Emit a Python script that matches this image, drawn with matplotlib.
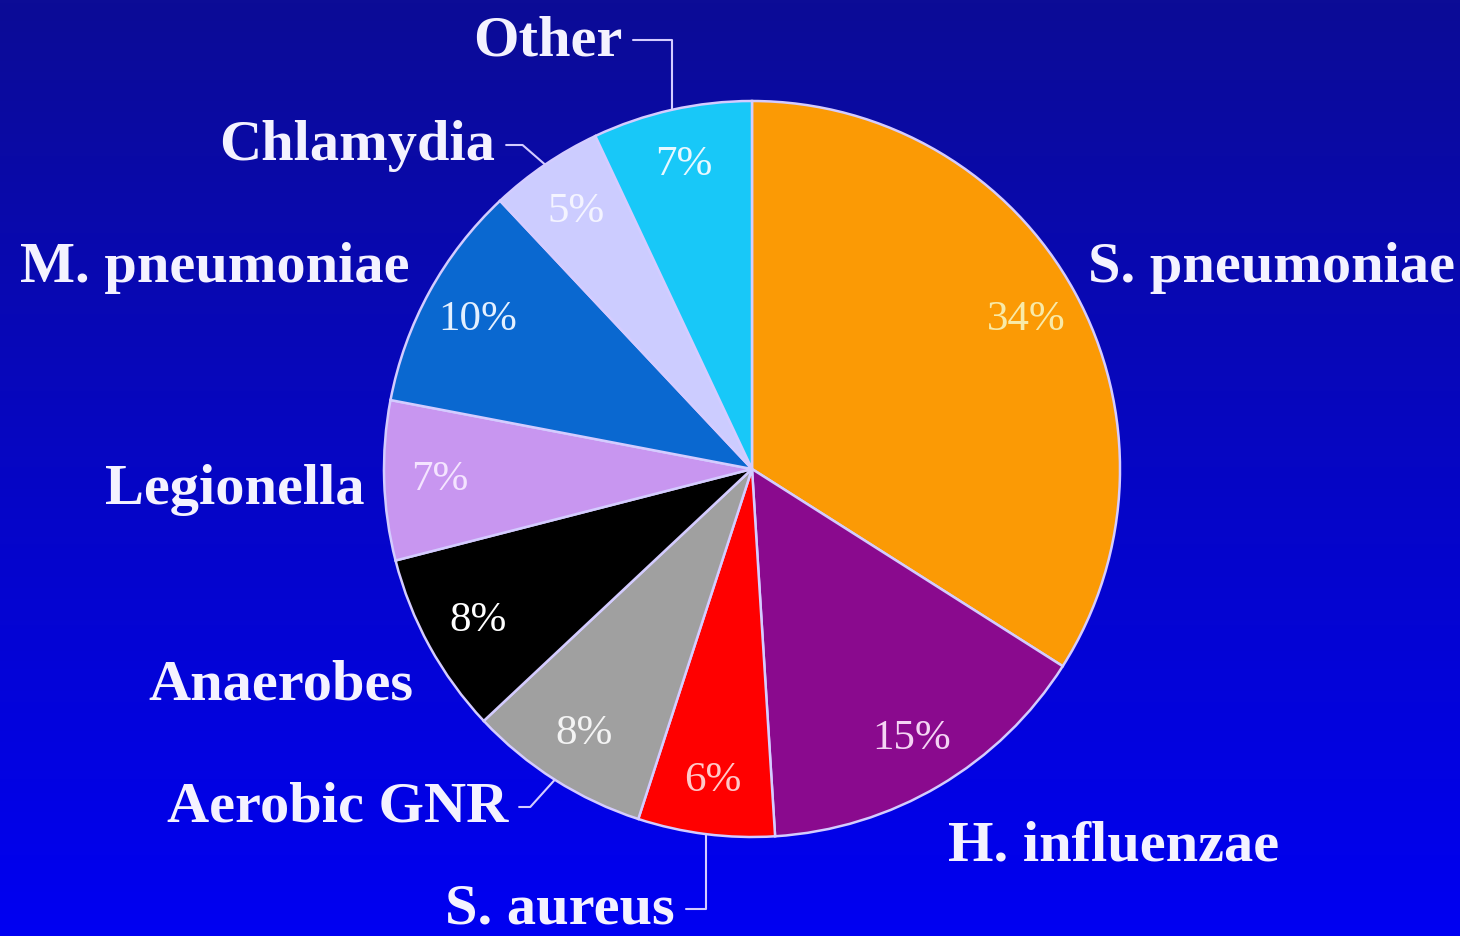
import numpy as np
import matplotlib
matplotlib.use("Agg")
import matplotlib.pyplot as plt

# data
labels = ["S. pneumoniae", "H. influenzae", "S. aureus", "Aerobic GNR", "Anaerobes",
          "Legionella", "M. pneumoniae", "Chlamydia", "Other"]
shares = [34, 15, 6, 8, 8, 7, 10, 5, 7]
colors = ["#fb9a05", "#8a0a8e", "#ff0000", "#a0a0a0", "#000000",
          "#c896f0", "#0a68d0", "#ccccff", "#18c8f8"]
pct_colors = ["#f8eaa8", "#f4d4f4", "#ffc8c8", "#f4f4f4", "#ffffff",
              "#f4e4ff", "#e4f0ff", "#f4f4ff", "#e8f8ff"]

W, H = 1460, 937
fig = plt.figure(figsize=(W / 100, H / 100), dpi=100)
ax = fig.add_axes([0, 0, 1, 1])

# background gradient, dark navy at top to bright blue at bottom
top = np.array([12, 12, 150]) / 255
bot = np.array([0, 0, 242]) / 255
t = np.linspace(0, 1, 256)[:, None]
grad = (top * (1 - t) + bot * t)[:, None, :]
ax.imshow(grad, extent=[0, W, 0, H], aspect="auto", origin="upper", zorder=0)

cx, cy, r = 752, 467, 368
wedges, _, pcts = ax.pie(shares, colors=colors, startangle=90, counterclock=False,
                         center=(cx, cy), radius=r, autopct="%d%%", pctdistance=0.85,
                         wedgeprops=dict(edgecolor="#d4ccff", linewidth=1.8),
                         textprops=dict(family="Liberation Serif", fontsize=31))
for p, c in zip(pcts, pct_colors):
    p.set_color(c)
ax.set_xlim(0, W)
ax.set_ylim(0, H)
ax.set_aspect("equal")
ax.axis("off")

# outer labels: (x, y, ha, leader angle or None)
label_pos = {
    "S. pneumoniae": (1088, 669, "left", None),
    "H. influenzae": (948, 90, "left", None),
    "S. aureus": (675, 27, "right", 90),
    "Aerobic GNR": (508, 129, "right", 48),
    "Anaerobes": (413, 251, "right", None),
    "Legionella": (365, 447, "right", None),
    "M. pneumoniae": (410, 669, "right", None),
    "Chlamydia": (495, 791, "right", 139),
    "Other": (622, 896, "right", 90),
}
txt_kw = dict(family="Liberation Serif", fontweight="bold", fontsize=42, color="#f4f2ff")
for w, lab in zip(wedges, labels):
    x, y, ha, ang = label_pos[lab]
    if ang is None:
        ax.text(x, y, lab, ha=ha, va="center", **txt_kw)
        continue
    mid = np.deg2rad((w.theta1 + w.theta2) / 2)
    ex, ey = cx + r * np.cos(mid), cy + r * np.sin(mid)
    ax.annotate(lab, xy=(ex, ey), xytext=(x, y), ha=ha, va="center",
                arrowprops=dict(arrowstyle="-", color="#d4ccff", lw=1.5,
                                shrinkA=6, shrinkB=0,
                                connectionstyle=f"angle,angleA=0,angleB={ang},rad=0"),
                **txt_kw)

fig.savefig("out.png", dpi=100)
